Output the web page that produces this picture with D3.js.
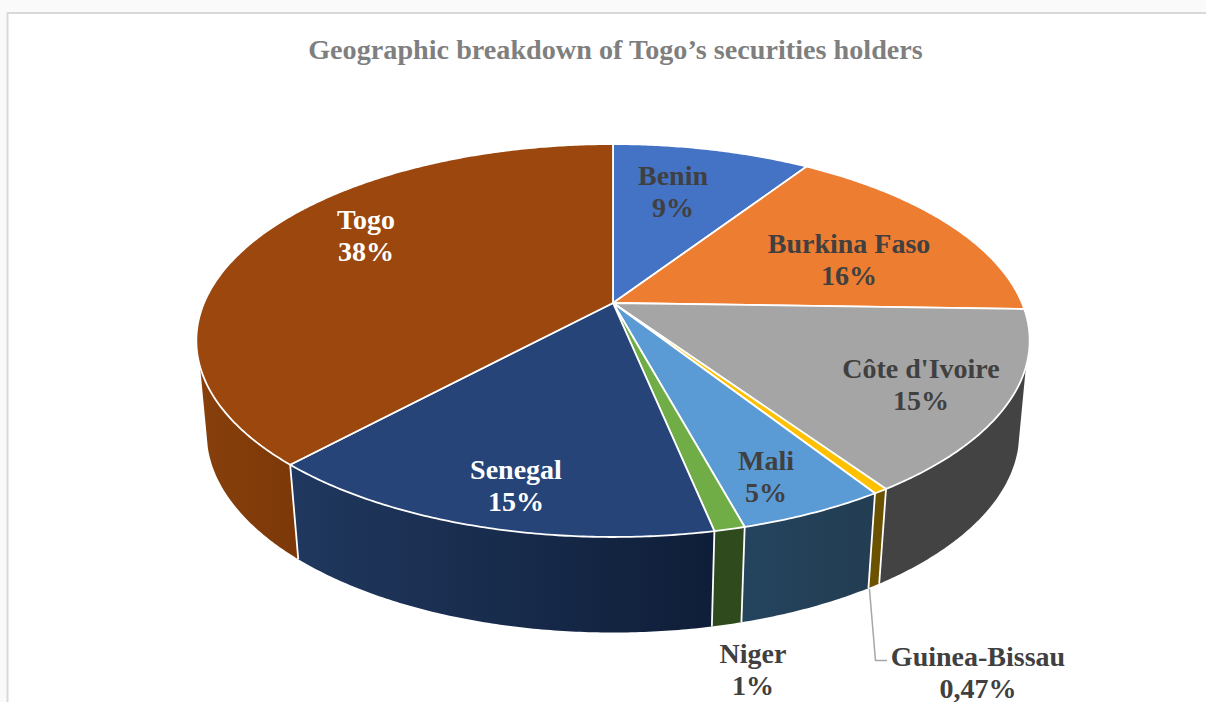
<!DOCTYPE html>
<html>
<head>
<meta charset="utf-8">
<script src="https://cdn.jsdelivr.net/npm/d3@7"></script>
<style>
  html, body { margin: 0; padding: 0; background: #fafafa; overflow: hidden; }
  text { font-family: "Liberation Serif", serif; font-weight: bold; }
</style>
</head>
<body>
<div class="canvas"></div>
<script>
// data (clockwise from 12 o'clock)
const countries = ['Benin', 'Burkina Faso', "Côte d'Ivoire", 'Guinea-Bissau', 'Mali', 'Niger', 'Senegal', 'Togo'];
const shares = [9.25, 16.25, 15.0, 0.47, 4.8, 1.0, 15.1, 38.13];
const shareLabels = ['9%', '16%', '15%', '0,47%', '5%', '1%', '15%', '38%'];
const titleText = 'Geographic breakdown of Togo’s securities holders';

// colours
const topColors = ['#4472c4', '#ed7d31', '#a5a5a5', '#ffc000', '#5b9bd5', '#70ad47', '#264478', '#9b470d'];
const wallColors = {
  'Côte d\'Ivoire': ['#434343', '#434343'],
  'Guinea-Bissau': ['#6b5200', '#6b5200'],
  'Mali': ['#24445e', '#233d52'],
  'Niger': ['#2f4a1c', '#2f4a1c'],
  'Senegal': ['#20385f', '#0f1e38'],
  'Togo': ['#87400c', '#7c3808']
};
const labelInk = { 'Senegal': '#fff', 'Togo': '#fff' };

// where the label blocks sit (centre x, first baseline)
const labelSpots = {
  'Benin': [673, 185], 'Burkina Faso': [849, 253], "Côte d'Ivoire": [921, 378], 'Guinea-Bissau': [978, 666],
  'Mali': [766, 470], 'Niger': [753, 663], 'Senegal': [516, 479], 'Togo': [366, 229]
};

const width = 1206, height = 702;

const svg = d3.select('.canvas').append('svg')
  .attr('width', width)
  .attr('height', height)
  .style('display', 'block');

// chart frame
svg.append('rect')
  .attr('x', 7.5).attr('y', 13)
  .attr('width', width + 20).attr('height', height + 20)
  .attr('fill', '#fff')
  .attr('stroke', '#d9d9d9')
  .attr('stroke-width', 2);

// tilted disc: unit circle pushed through a perspective transform
const cx = 613, cy = 303;
const rimX = 409, rimY = 189.3, tilt = 0.191;
const project = a => {
  const u = Math.sin(a), v = -Math.cos(a), w = 1 - tilt * v;
  return [cx + rimX * u / w, cy + rimY * v / w];
};
// lower rim of the wall, a bit narrower because it is further from the eye
const projectLow = a => {
  const p = project(a);
  return [cx + 0.975 * (p[0] - cx), cy + 92 + 1.015 * (p[1] - cy)];
};

const rad = d => d * Math.PI / 180;
const wallFrom = rad(108.5), wallTo = rad(251.5); // where the wall shows under the top rim
const lowFrom = rad(105), lowTo = rad(255);       // the silhouette meets the lower rim here

const sweep = (a0, a1) => {
  const n = Math.max(2, Math.ceil(Math.abs(a1 - a0) / rad(0.5)));
  return d3.range(n + 1).map(i => a0 + (a1 - a0) * i / n);
};

const pie = d3.pie().sort(null).value(d => d.share);
const slices = pie(countries.map((c, i) => ({ name: c, share: shares[i], label: shareLabels[i], color: topColors[i] })));

const line = d3.line();
const defs = svg.append('defs');

// side walls first
const walls = slices.filter(s => s.endAngle > wallFrom && s.startAngle < wallTo);
walls.forEach((s, i) => {
  const topA = Math.max(s.startAngle, wallFrom), topB = Math.min(s.endAngle, wallTo);
  const lowA = s.startAngle <= wallFrom ? lowFrom : s.startAngle;
  const lowB = s.endAngle >= wallTo ? lowTo : s.endAngle;
  const pts = sweep(topA, topB).map(project).concat(sweep(lowB, lowA).map(projectLow));

  const xs = pts.map(p => p[0]);
  const grad = defs.append('linearGradient')
    .attr('id', 'wall' + i)
    .attr('gradientUnits', 'userSpaceOnUse')
    .attr('x1', d3.min(xs)).attr('x2', d3.max(xs))
    .attr('y1', 0).attr('y2', 0);
  const stops = wallColors[s.data.name];
  grad.append('stop').attr('offset', 0).attr('stop-color', stops[0]);
  grad.append('stop').attr('offset', 1).attr('stop-color', stops[1]);

  svg.append('path')
    .attr('d', line(pts) + 'Z')
    .attr('fill', `url(#wall${i})`)
    .attr('stroke', 'none');
});

// white seams between the wall pieces
walls.slice(1).forEach(s => {
  svg.append('line')
    .attr('x1', project(s.startAngle)[0]).attr('y1', project(s.startAngle)[1])
    .attr('x2', projectLow(s.startAngle)[0]).attr('y2', projectLow(s.startAngle)[1])
    .attr('stroke', '#fff')
    .attr('stroke-width', 1.8);
});

// top face
svg.selectAll('path.slice')
  .data(slices)
  .enter()
  .append('path')
  .attr('class', 'slice')
  .attr('d', d => line([[cx, cy]].concat(sweep(d.startAngle, d.endAngle).map(project))) + 'Z')
  .attr('fill', d => d.data.color)
  .attr('stroke', '#fff')
  .attr('stroke-width', 1.8)
  .attr('stroke-linejoin', 'round');

// leader line for the smallest slice
const gb = slices.find(s => s.data.name === 'Guinea-Bissau');
const gbFoot = projectLow(gb.endAngle);
svg.append('path')
  .attr('d', line([[gbFoot[0] + 1, gbFoot[1] + 1], [875.5, 660.5], [887, 660.5]]))
  .attr('fill', 'none')
  .attr('stroke', '#a6a6a6')
  .attr('stroke-width', 1.5);

// title
svg.append('text')
  .attr('x', 615.5).attr('y', 59)
  .attr('text-anchor', 'middle')
  .attr('font-size', 28.2)
  .attr('fill', '#7f7f7f')
  .text(titleText);

// labels
const labels = svg.selectAll('g.label')
  .data(slices)
  .enter()
  .append('g')
  .attr('class', 'label')
  .attr('text-anchor', 'middle')
  .attr('font-size', 28)
  .attr('fill', d => labelInk[d.data.name] || '#404040')
  .attr('transform', d => `translate(${labelSpots[d.data.name]})`);

labels.append('text').text(d => d.data.name);
labels.append('text').attr('y', 32).text(d => d.data.label);
</script>
</body>
</html>
